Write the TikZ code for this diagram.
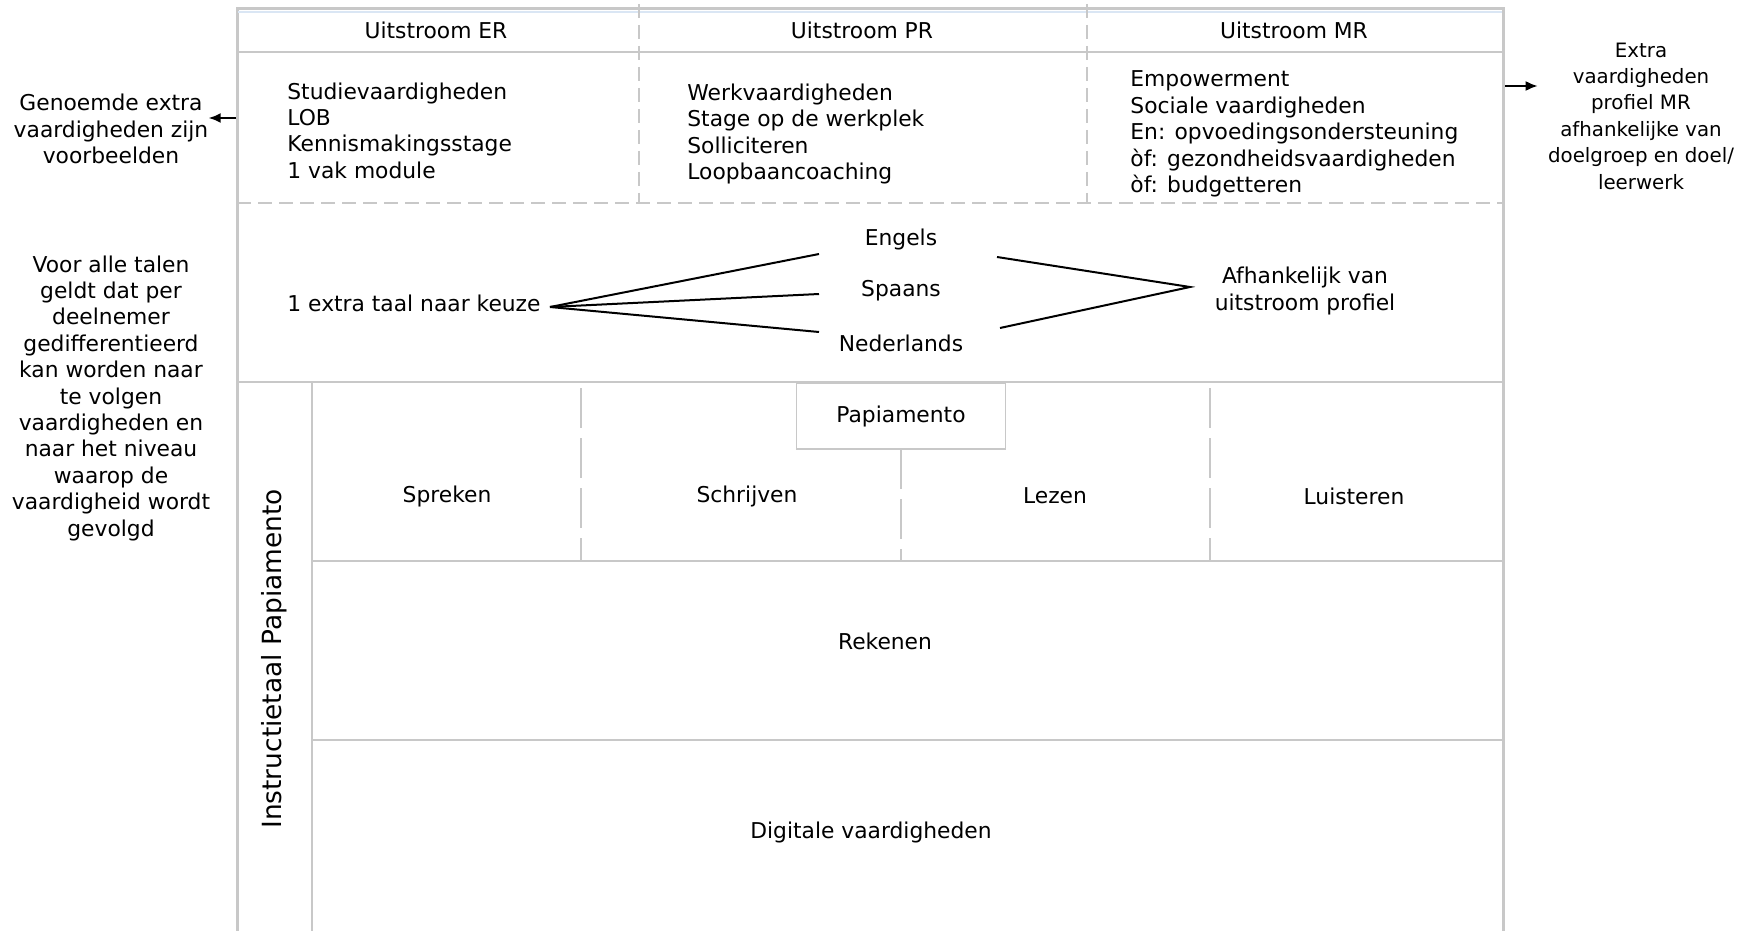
\documentclass[tikz,border=0pt]{standalone}
\usepackage{fontspec}
\setmainfont{DejaVu Sans}
\usetikzlibrary{arrows.meta, positioning}
\definecolor{gridgray}{RGB}{200,200,200}
\definecolor{topblue}{RGB}{218,230,244}

\begin{document}
\begin{tikzpicture}[
  x=0.5pt, y=-0.5pt,
  txt/.style={font=\fontsize{10.9}{13.2}\selectfont, inner sep=0pt, align=center},
  list/.style={txt, align=left, anchor=west},
  frame/.style={draw=gridgray, line width=1.5pt},
  rule/.style={draw=gridgray, line width=1pt},
  hdash/.style={draw=gridgray, line width=1pt, dash pattern=on 7pt off 3.5pt},
  vdash/.style={draw=gridgray, line width=0.8pt, dash pattern=on 20pt off 5pt},
  link/.style={draw=black, line width=1pt},
  >={Latex[length=6pt,width=5pt]}
]
\useasboundingbox (0,0) rectangle (1742,931);

% raster
\draw[frame] (237,931) -- (237,9) -- (1503,9) -- (1503,931);
\draw[topblue, line width=1pt] (238,12) -- (1502,12);
\draw[rule] (237,52) -- (1503,52);
\draw[hdash] (237,203) -- (1503,203);
\draw[rule] (237,382) -- (1503,382);
\draw[rule] (312,561) -- (1503,561);
\draw[rule] (312,740) -- (1503,740);
\draw[rule] (312,382) -- (312,931);
\foreach \x in {639,1087}
  \draw[hdash] (\x,4) -- (\x,203);
\foreach \x in {581,1210}
  \draw[vdash] (\x,388) -- (\x,561);
\draw[vdash] (901,449) -- (901,561);

% uitstroom profielen
\node[txt] (er) at (436,30) {Uitstroom ER};
\node[txt] (pr) at (862,30) {Uitstroom PR};
\node[txt] (mr) at (1294,30) {Uitstroom MR};
\node[list] (erlist) at (287,130.5) {Studievaardigheden\\LOB\\Kennismakingsstage\\1 vak module};
\node[list] (prlist) at (687,134) {Werkvaardigheden\\Stage op de werkplek\\Solliciteren\\Loopbaancoaching};
\node[list] (mrlist) at (1130,134) {Empowerment\\Sociale vaardigheden\\En: opvoedingsondersteuning\\òf: gezondheidsvaardigheden\\òf: budgetteren};

% notities buiten het raster
\coordinate (erout) at (236,118);
\coordinate (mrout) at (1505,86);
\node[txt] (voorbeeld) at (111,129) {Genoemde extra\\vaardigheden zijn\\voorbeelden};
\node[txt, font=\fontsize{9.9}{13.2}\selectfont] (mrnote) at (1641,116) {Extra\\vaardigheden\\profiel MR\\afhankelijke van\\doelgroep en doel/\\leerwerk};
\node[txt] (talen) at (111,398) {Voor alle talen\\geldt dat per\\deelnemer\\gedifferentieerd\\kan worden naar\\te volgen\\vaardigheden en\\naar het niveau\\waarop de\\vaardigheid wordt\\gevolgd};
\draw[->, link] (erout) -- (voorbeeld.east |- erout);
\draw[->, link] (mrout) -- ([xshift=-5pt]mrnote.west |- mrout);

% extra taal
\node[txt] (keuze) at (414,303) {1 extra taal naar keuze};
\node[txt] (engels) at (901,239) {Engels};
\node[txt] (spaans) at (901,291) {Spaans};
\node[txt] (nederlands) at (901,343) {Nederlands};
\node[txt] (afh) at (1305,291) {Afhankelijk van\\uitstroom profiel};
\coordinate (split) at (550,307);
\coordinate (engin) at (819,254);
\coordinate (spain) at (819,294);
\coordinate (nedin) at (819,332);
\coordinate (engout) at (997,257);
\coordinate (nedout) at (1000,328);
\coordinate (join) at (1190,287);
\draw[link] (split) -- (engin);
\draw[link] (split) -- (spain);
\draw[link] (split) -- (nedin);
\draw[link] (engout) -- (join) -- (nedout);

% vaardigheden
\node[draw=gridgray, line width=0.8pt, fill=white, minimum width=104.5pt, minimum height=33pt, txt] (papiamento) at (901,416) {Papiamento};
\node[txt] (spreken) at (447,496) {Spreken};
\node[txt] (schrijven) at (747,496) {Schrijven};
\node[txt] (lezen) at (1055,496) {Lezen};
\node[txt] (luisteren) at (1354,496) {Luisteren};
\node[txt] (rekenen) at (885,641) {Rekenen};
\node[txt] (digitaal) at (871,832) {Digitale vaardigheden};
\node[txt, rotate=90, font=\fontsize{13.2}{15}\selectfont] (instructie) at (274,659) {Instructietaal Papiamento};
\end{tikzpicture}
\end{document}
